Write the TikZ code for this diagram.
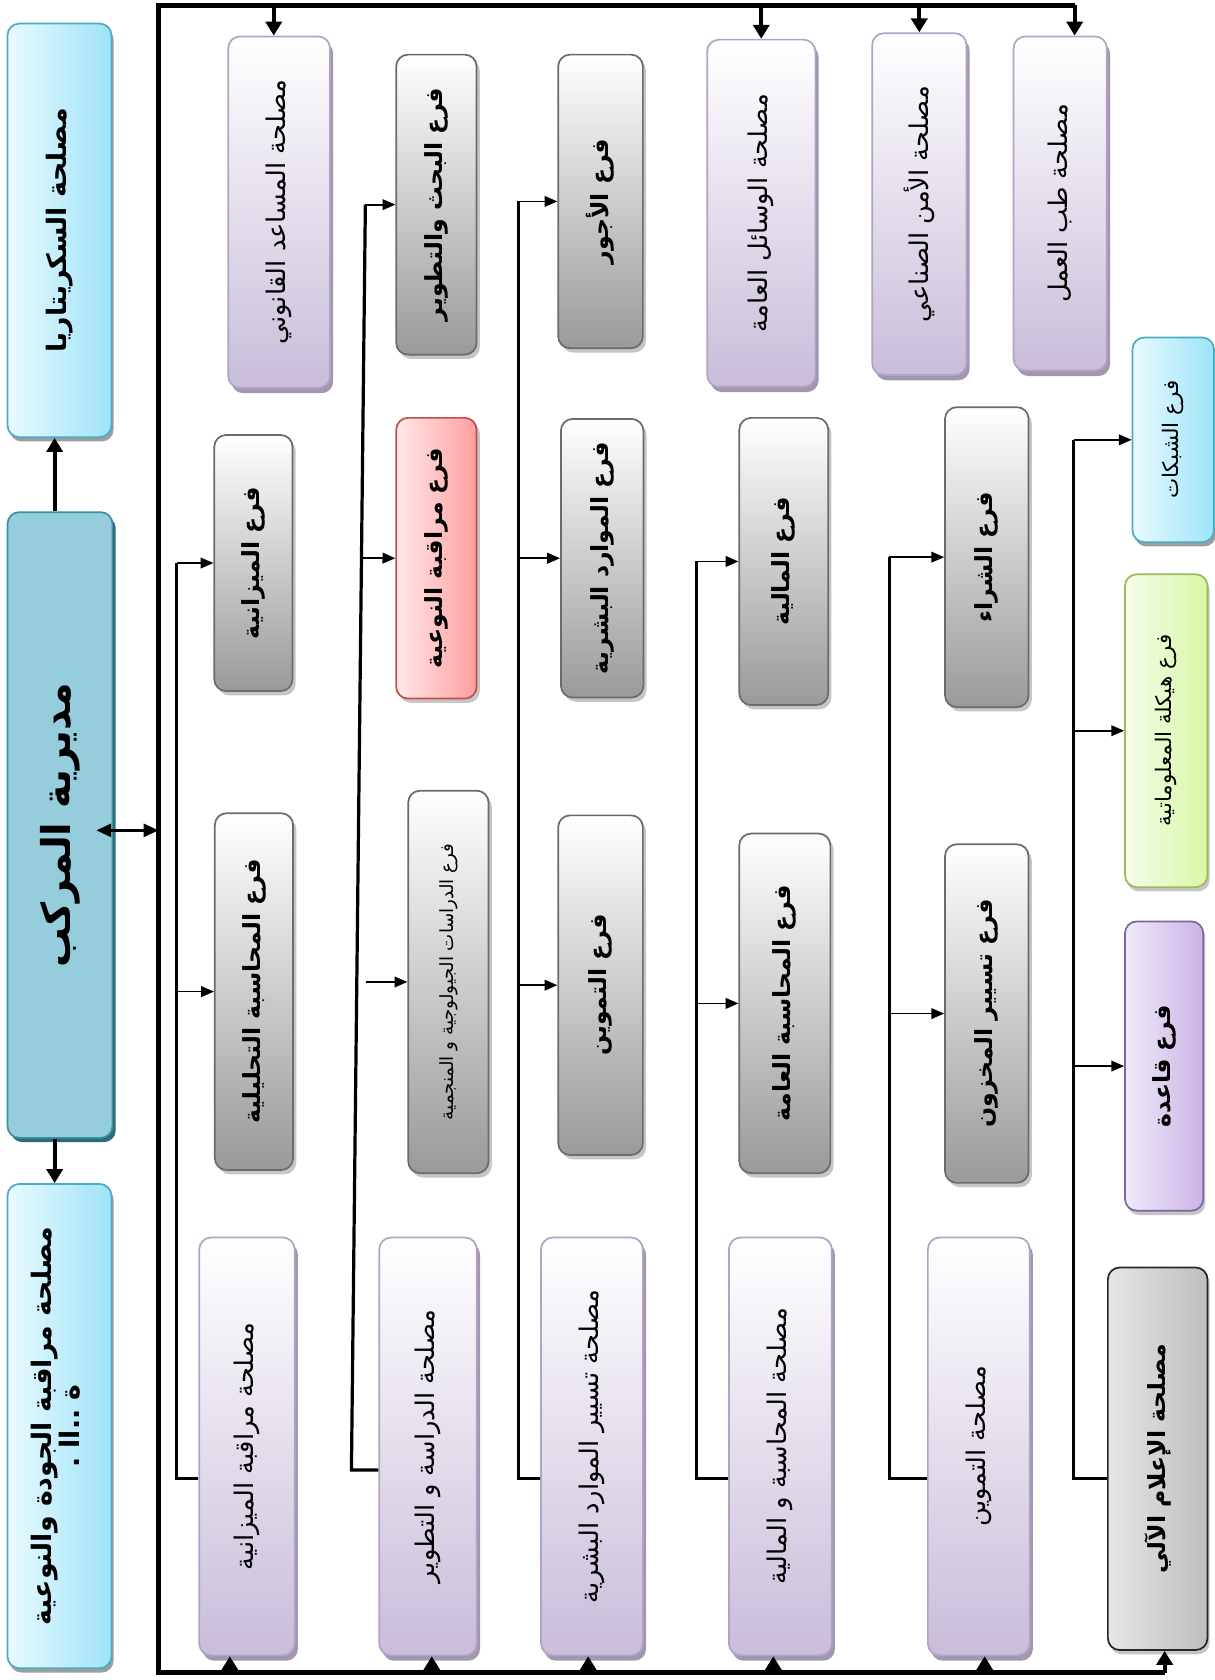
\documentclass[tikz,border=0pt]{standalone}
\usepackage{fontspec}
\TeXXeTstate=1
\newfontfamily\arfont[Script=Arabic]{DejaVu Sans}
\usetikzlibrary{arrows.meta,shadows,calc}
\newcommand\rtxt[1]{\rotatebox{90}{\beginR #1\endR}}
\definecolor{grayB}{HTML}{6B6B6B}
\definecolor{grayBot}{HTML}{9A9A9A}
\definecolor{grayShadow}{HTML}{C6C6C6}
\definecolor{purB}{HTML}{B3A2C7}
\definecolor{purBot}{HTML}{C9BDD9}
\definecolor{purShadow}{HTML}{A397AF}
\definecolor{cyanB}{HTML}{4BACC6}
\definecolor{cyanL}{HTML}{E9FAFF}
\definecolor{cyanR}{HTML}{9EE3F8}
\definecolor{dirB}{HTML}{3C8FA5}
\definecolor{dirMid}{HTML}{4BACC6}
\definecolor{dirEdge}{HTML}{96CDDC}
\definecolor{dirShadow}{HTML}{2C6B7C}
\definecolor{redB}{HTML}{C0504D}
\definecolor{redL}{HTML}{FFE9E9}
\definecolor{redR}{HTML}{FF9E9E}
\definecolor{grnB}{HTML}{9BBB59}
\definecolor{grnL}{HTML}{F4FDEA}
\definecolor{grnR}{HTML}{D8F7A6}
\definecolor{lavB}{HTML}{8064A2}
\definecolor{lavL}{HTML}{F0EBF9}
\definecolor{lavR}{HTML}{CAB3E6}
\definecolor{infB}{HTML}{262626}
\definecolor{infL}{HTML}{E6E6E6}
\definecolor{infR}{HTML}{BEBEBE}
\tikzset{
  box/.style={rounded corners=11pt, inner sep=0pt, line width=1.6pt, align=center},
  fnt/.style={font=\arfont\fontsize{#1}{#1}\selectfont},
  bfnt/.style={font=\arfont\bfseries\fontsize{#1}{#1}\selectfont},
  gbox/.style={box, draw=grayB, top color=white, bottom color=grayBot,
    drop shadow={fill=grayShadow, opacity=1, shadow xshift=3pt, shadow yshift=-4pt}, bfnt=22},
  pbox/.style={box, draw=purB, top color=white, bottom color=purBot,
    drop shadow={fill=purShadow, opacity=1, shadow xshift=3pt, shadow yshift=-5pt}, fnt=24},
  cbox/.style={box, draw=cyanB, left color=cyanL, right color=cyanR,
    drop shadow={fill=grayShadow!80!black, opacity=1, shadow xshift=2pt, shadow yshift=-4pt}, bfnt=25},
  dbox/.style={box, draw=dirB, top color=dirEdge, middle color=dirMid, bottom color=dirEdge,
    drop shadow={fill=dirShadow, opacity=1, shadow xshift=3pt, shadow yshift=-4pt}, bfnt=37},
  rbox/.style={box, draw=redB, left color=redL, right color=redR,
    drop shadow={fill=grayShadow, opacity=1, shadow xshift=3pt, shadow yshift=-4pt}, bfnt=22},
  grbox/.style={box, draw=grnB, left color=grnL, right color=grnR,
    drop shadow={fill=grayShadow, opacity=1, shadow xshift=2pt, shadow yshift=-4pt}, fnt=20},
  lbox/.style={box, draw=lavB, left color=lavL, right color=lavR,
    drop shadow={fill=grayShadow, opacity=1, shadow xshift=2pt, shadow yshift=-4pt}, bfnt=22},
  ibox/.style={box, draw=infB, left color=infL, right color=infR,
    drop shadow={fill=grayShadow, opacity=1, shadow xshift=2pt, shadow yshift=-4pt}, bfnt=22},
  frameline/.style={line width=4.5pt, line join=miter},
  colline/.style={line width=3pt, line join=miter},
  bigarr/.style={line width=3.5pt, -{Triangle[length=13pt,width=15pt]}},
  brarr/.style={line width=1.6pt, -{Triangle[length=12pt,width=10pt]}},
  dblarr/.style={line width=3pt, {Triangle[length=14pt,width=12pt]}-{Triangle[length=14pt,width=12pt]}},
}
\begin{document}
\begin{tikzpicture}[x=1pt,y=-1pt]
\useasboundingbox[fill=white] (0,0) rectangle (1134,1568);
% left column
\node[cbox, minimum width=97pt, minimum height=386pt] (sec) at (55.5,215) {\rtxt{مصلحة السكريتاريا}};
\node[dbox, minimum width=98pt, minimum height=584pt] (dir) at (56,770) {\rtxt{مديرية المركب}};
\node[cbox, minimum width=97pt, minimum height=452pt] (qual) at (55.5,1331) {\rotatebox{90}{\begin{tabular}{@{}c@{}}\beginR مصلحة مراقبة الجودة والنوعية\endR\\ \beginR ة ..اا .\endR\end{tabular}}};
% top services
\node[pbox, minimum width=95pt, minimum height=328pt] (legal) at (260.5,198) {\rtxt{مصلحة المساعد القانوني}};
\node[pbox, minimum width=101pt, minimum height=324pt] (wasail) at (710.5,199) {\rtxt{مصلحة الوسائل العامة}};
\node[pbox, minimum width=88pt, minimum height=319pt] (amn) at (858,190.5) {\rtxt{مصلحة الأمن الصناعي}};
\node[pbox, minimum width=87pt, minimum height=312pt] (tibb) at (989.5,190) {\rtxt{مصلحة طب العمل}};
% branches
\node[gbox, minimum width=73pt, minimum height=239pt] (b11) at (236.5,525.5) {\rtxt{فرع الميزانية}};
\node[gbox, minimum width=73pt, minimum height=333pt] (b12) at (237,925.5) {\rtxt{فرع المحاسبة التحليلية}};
\node[gbox, minimum width=75pt, minimum height=280pt] (b21) at (407.3,191) {\rtxt{فرع البحث والتطوير}};
\node[rbox, minimum width=75pt, minimum height=262pt] (b22) at (407.3,521) {\rtxt{فرع مراقبة النوعية}};
\node[gbox, minimum width=75pt, minimum height=357pt, fnt=17] (b23) at (418.5,916.5) {\rtxt{فرع الدراسات الجيولوجية و المنجمية}};
\node[gbox, minimum width=79pt, minimum height=274pt] (b31) at (560.5,188) {\rtxt{فرع الأجور}};
\node[gbox, minimum width=77pt, minimum height=260pt] (b32) at (562,521) {\rtxt{فرع الموارد البشرية}};
\node[gbox, minimum width=79pt, minimum height=317pt] (b33) at (560.5,919.5) {\rtxt{فرع التموين}};
\node[gbox, minimum width=83pt, minimum height=268pt] (b41) at (731.5,524) {\rtxt{فرع المالية}};
\node[gbox, minimum width=85pt, minimum height=317pt] (b42) at (732.5,936.5) {\rtxt{فرع المحاسبة العامة}};
\node[gbox, minimum width=78pt, minimum height=280pt] (b51) at (921,520) {\rtxt{فرع الشراء}};
\node[gbox, minimum width=78pt, minimum height=316pt] (b52) at (921,946) {\rtxt{فرع تسيير المخزون}};
\node[cbox, minimum width=76pt, minimum height=191pt, fnt=20] (b61) at (1095,410.5) {\rtxt{فرع الشبكات}};
\node[grbox, minimum width=77pt, minimum height=292pt] (b62) at (1088.5,682) {\rtxt{فرع هيكلة المعلوماتية}};
\node[lbox, minimum width=73pt, minimum height=270pt] (b63) at (1086.5,995) {\rtxt{فرع قاعدة}};
% bottom services
\node[pbox, minimum width=89pt, minimum height=390pt] (m1) at (230.5,1350) {\rtxt{مصلحة مراقبة الميزانية}};
\node[pbox, minimum width=91pt, minimum height=390pt] (m2) at (399.5,1350) {\rtxt{مصلحة الدراسة و التطوير}};
\node[pbox, minimum width=95pt, minimum height=390pt] (m3) at (552.5,1350) {\rtxt{مصلحة تسيير الموارد البشرية}};
\node[pbox, minimum width=96pt, minimum height=390pt] (m4) at (728.3,1350) {\rtxt{مصلحة المحاسبة و المالية}};
\node[pbox, minimum width=95pt, minimum height=390pt] (m5) at (913.5,1350) {\rtxt{مصلحة التموين}};
\node[ibox, minimum width=93pt, minimum height=357pt] (m6) at (1080.5,1361.5) {\rtxt{مصلحة الإعلام الآلي}};
% frame
\coordinate (fTL) at (148,5);
\coordinate (fBL) at (148,1561);
\coordinate (fTR) at (1003,5);
\coordinate (fBR) at (1087,1561);
\draw[frameline] (fTR) -- (fTL) -- (fBL) -- (fBR);
% top arrows
\draw[bigarr] ([xshift=-5pt]legal.north |- fTL) -- ([xshift=-5pt]legal.north);
\draw[bigarr] (wasail.north |- fTL) -- (wasail.north);
\draw[bigarr] (amn.north |- fTL) -- (amn.north);
\draw[bigarr] (fTR) -- (fTR |- tibb.north);
% bottom arrows
\draw[bigarr] ([xshift=-16pt]m1.south |- fBL) -- ([xshift=-16pt]m1.south);
\draw[bigarr] ([xshift=3.5pt]m2.south |- fBL) -- ([xshift=3.5pt]m2.south);
\draw[bigarr] ([xshift=-3.5pt]m3.south |- fBL) -- ([xshift=-3.5pt]m3.south);
\draw[bigarr] ([xshift=-6.5pt]m4.south |- fBL) -- ([xshift=-6.5pt]m4.south);
\draw[bigarr] ([xshift=5.5pt]m5.south |- fBL) -- ([xshift=5.5pt]m5.south);
\draw[bigarr] (fBR) -- (fBR |- m6.south);
% director links
\draw[bigarr] ([xshift=-5pt]dir.north) -- ([xshift=-5pt]dir.north |- sec.south);
\draw[bigarr] ([xshift=-5pt]dir.south) -- ([xshift=-5pt]dir.south |- qual.north);
\coordinate (dE) at ([yshift=-5pt]dir.east);
\draw[dblarr] ([xshift=-16pt]dE) -- (dE -| fTL);
% column connectors
\coordinate (jr) at (0,1380);
\coordinate (c1) at (165,0);
\coordinate (c3) at (484,0);
\coordinate (c4) at (650,0);
\coordinate (c5) at (830,0);
\coordinate (c6) at (1002,0);
\coordinate (c2t) at (341,191);
\coordinate (c2b) at (328,1372);
\draw[colline] (m1.west |- jr) -- (c1 |- jr) -- (c1 |- b11.west);
\draw[brarr] (c1 |- b11.west) -- (b11.west);
\draw[brarr] (c1 |- b12.west) -- (b12.west);
\draw[colline] (m2.west |- c2b) -- (c2b) -- (c2t);
\draw[brarr] (c2t) -- (b21.west);
\draw[brarr] ($(c2b)!(b22.west)!(c2t)$) -- (b22.west);
\draw[brarr] ([xshift=-39pt]b23.west) -- (b23.west);
\draw[colline] (m3.west |- jr) -- (c3 |- jr) -- (c3 |- b31.west);
\draw[brarr] (c3 |- b31.west) -- (b31.west);
\draw[brarr] (c3 |- b32.west) -- (b32.west);
\draw[brarr] (c3 |- b33.west) -- (b33.west);
\draw[colline] (m4.west |- jr) -- (c4 |- jr) -- (c4 |- b41.west);
\draw[brarr] (c4 |- b41.west) -- (b41.west);
\draw[brarr] (c4 |- b42.west) -- (b42.west);
\draw[colline] (m5.west |- jr) -- (c5 |- jr) -- (c5 |- b51.west);
\draw[brarr] (c5 |- b51.west) -- (b51.west);
\draw[brarr] (c5 |- b52.west) -- (b52.west);
\draw[colline] (m6.west |- jr) -- (c6 |- jr) -- (c6 |- b61.west);
\draw[brarr] (c6 |- b61.west) -- (b61.west);
\draw[brarr] (c6 |- b62.west) -- (b62.west);
\draw[brarr] (c6 |- b63.west) -- (b63.west);
\end{tikzpicture}
\end{document}
